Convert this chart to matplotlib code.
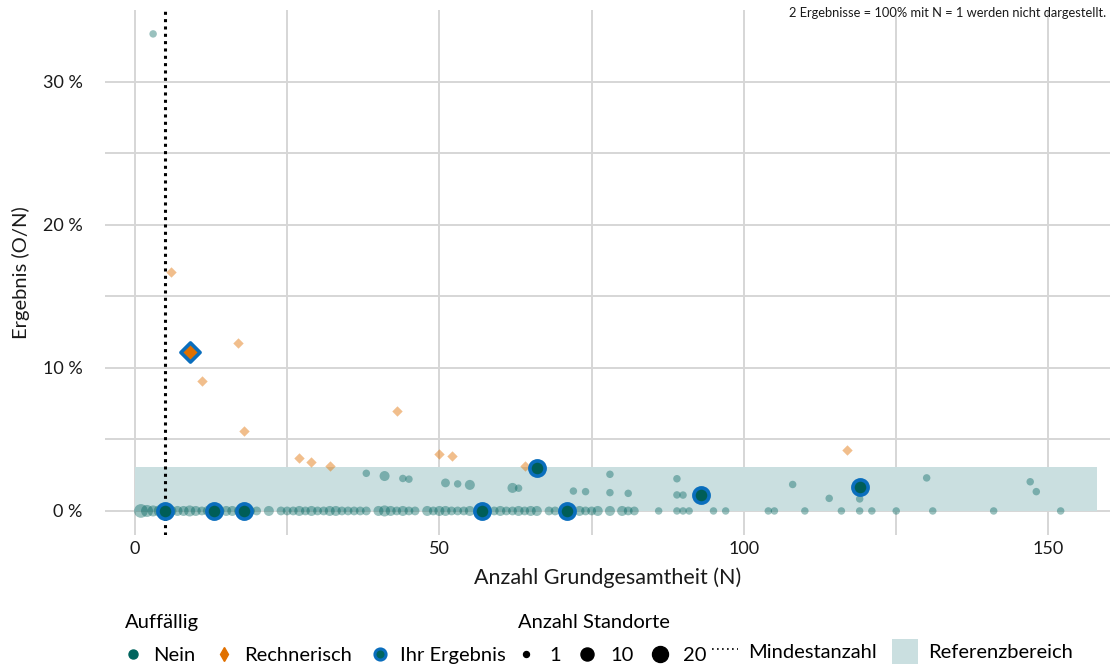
import numpy as np
import matplotlib
matplotlib.use('Agg')
import matplotlib.pyplot as plt
from matplotlib.lines import Line2D
from matplotlib.patches import Patch

plt.rcParams['font.family'] = ['Lato', 'DejaVu Sans']

# Nein (unauffaellig) - N, result in %, number of sites
nein_n = [3, 38, 41, 44, 45, 51, 53, 55, 62, 63, 72, 74, 78, 78, 81, 89, 89, 90,
          108, 114, 119, 130, 147, 148]
nein_y = [33.33, 2.63, 2.44, 2.27, 2.22, 1.96, 1.89, 1.82, 1.61, 1.59, 1.39, 1.35,
          2.56, 1.28, 1.23, 2.25, 1.12, 1.11, 1.85, 0.88, 0.84, 2.31, 2.04, 1.35]
nein_cnt = [1, 1, 3, 1, 1, 2, 1, 3, 3, 1, 1, 1, 1, 1, 1, 1, 1, 1, 1, 1, 1, 1, 1, 1]

# Nein with result 0 %
zero_n = [1, 2, 3, 4, 6, 7, 8, 9, 10, 11, 12, 14, 15, 16, 17, 19, 20, 22, 24, 25,
          26, 27, 28, 29, 30, 31, 32, 33, 34, 35, 36, 37, 38, 40, 41, 42, 43, 44,
          45, 46, 48, 49, 50, 51, 52, 53, 54, 55, 59, 60, 61, 62, 63, 64, 65, 66,
          68, 69, 73, 74, 75, 76, 78, 80, 81, 82, 86, 89, 90, 91, 95, 97, 104,
          105, 110, 116, 119, 121, 125, 131, 141, 152]
zero_cnt = [7, 5, 4, 4, 3, 3, 3, 4, 3, 2, 3, 2, 3, 3, 2, 2, 2, 3, 2, 2,
            2, 3, 2, 3, 2, 2, 3, 3, 2, 2, 2, 2, 2, 3, 4, 3, 2, 3,
            2, 2, 3, 2, 3, 3, 2, 2, 2, 3, 2, 3, 2, 2, 3, 2, 3, 3,
            2, 2, 3, 2, 2, 3, 3, 3, 2, 2, 1, 1, 1, 1, 1, 1, 1,
            1, 1, 1, 1, 1, 1, 1, 1, 1]

# Rechnerisch auffaellig
rech_n = [6, 11, 17, 18, 27, 29, 32, 43, 50, 52, 64, 117]
rech_y = [16.67, 9.09, 11.76, 5.56, 3.70, 3.45, 3.13, 6.98, 4.00, 3.85, 3.13, 4.27]

# Ihr Ergebnis
ihr_n = [5, 13, 18, 57, 66, 71, 93, 119]
ihr_y = [0, 0, 0, 0, 3.03, 0, 1.08, 1.68]
ihr_rech_n = [9]
ihr_rech_y = [11.11]

mindestanzahl = 5
ref_upper = 3.08
ref_xmax = 158

TEAL = '#00645E'
ORANGE = '#E07000'
BLUE = '#0A6EBD'
BAND = '#CADFE0'
GRID = '#D6D6D6'
TXT = '#1a1a1a'


def size(c):
    return 29 + 11.5 * (np.asarray(c) - 1)


fig = plt.figure(figsize=(11.12, 6.66), dpi=100)
ax = fig.add_axes([105 / 1112, 131 / 666, 1005 / 1112, 525 / 666])

ax.set_xlim(-4.9, 160.1)
ax.set_ylim(-1.68, 35.0)

# reference band
ax.fill_between([0, ref_xmax], 0, ref_upper, color=BAND, lw=0, zorder=1)

ax.set_xticks([0, 50, 100, 150])
ax.set_xticks([25, 75, 125], minor=True)
ax.set_yticks([0, 10, 20, 30])
ax.set_yticks([5, 15, 25], minor=True)
ax.set_yticklabels(['0 %', '10 %', '20 %', '30 %'])
ax.grid(True, which='both', color=GRID, lw=1.4, zorder=0)
ax.set_axisbelow(True)
ax.tick_params(which='both', length=0, labelsize=13, colors=TXT)
ax.tick_params(axis='x', pad=4)
ax.tick_params(axis='y', pad=16)
for s in ax.spines.values():
    s.set_visible(False)

ax.set_xlabel('Anzahl Grundgesamtheit (N)', fontsize=15.5, color=TXT, labelpad=8)
ax.set_ylabel('Ergebnis (O/N)', fontsize=14.5, color=TXT, labelpad=9)

ax.scatter(zero_n, [0] * len(zero_n), s=size(zero_cnt), color=TEAL, alpha=0.4,
           lw=0, zorder=3)
ax.scatter(nein_n, nein_y, s=size(nein_cnt), color=TEAL, alpha=0.4, lw=0, zorder=3)
ax.scatter(rech_n, rech_y, s=28, marker='D', color=ORANGE, alpha=0.45, lw=0, zorder=3)

ax.axvline(mindestanzahl, color='black', lw=2.2, linestyle=(0, (1, 1.4)), zorder=4)

ax.scatter(ihr_n, ihr_y, s=120, color='#005E58', edgecolor=BLUE, lw=2.6, zorder=5)
ax.scatter(ihr_rech_n, ihr_rech_y, s=95, marker='D', color=ORANGE, edgecolor=BLUE,
           lw=2.6, zorder=5)

fig.text(1106 / 1112, 1 - 13 / 666,
         '2 Ergebnisse = 100% mit N = 1 werden nicht dargestellt.',
         ha='right', va='center', fontsize=9.3, color=TXT)

# legends
FS = 14.5
h1 = [Line2D([], [], ls='', marker='o', ms=6.5, color=TEAL),
      Line2D([], [], ls='', marker='d', ms=7, color=ORANGE),
      Line2D([], [], ls='', marker='o', ms=8, color=TEAL, mec=BLUE, mew=2.2)]
leg1 = fig.legend(h1, ['Nein', 'Rechnerisch', 'Ihr Ergebnis'], title='Auffällig',
                  ncol=3, loc='lower left', bbox_to_anchor=(123 / 1112, 0.0),
                  frameon=False, fontsize=FS, title_fontsize=FS,
                  alignment='left', handlelength=0.8, handletextpad=0.6,
                  columnspacing=1.0, borderaxespad=0.0, borderpad=0.1,
                  labelspacing=0.8)

h2 = [Line2D([], [], ls='', marker='o', ms=4.3, color='black'),
      Line2D([], [], ls='', marker='o', ms=9.4, color='black'),
      Line2D([], [], ls='', marker='o', ms=11.5, color='black')]
leg2 = fig.legend(h2, ['1', '10', '20'], title='Anzahl Standorte',
                  ncol=3, loc='lower left', bbox_to_anchor=(516 / 1112, 0.0),
                  frameon=False, fontsize=FS, title_fontsize=FS,
                  alignment='left', handlelength=0.8, handletextpad=0.75,
                  columnspacing=0.9, borderaxespad=0.0, borderpad=0.1,
                  labelspacing=0.8)

h3 = [Line2D([], [], color='black', lw=1.2, ls=(0, (1, 2))),
      Patch(facecolor=BAND, edgecolor='none')]
leg3 = fig.legend(h3, ['Mindestanzahl', 'Referenzbereich'],
                  ncol=2, loc='lower left', bbox_to_anchor=(710 / 1112, 0.0),
                  frameon=False, fontsize=FS, handlelength=1.3,
                  handleheight=1.5, handletextpad=0.5, columnspacing=0.75,
                  borderaxespad=0.0, borderpad=0.1)

fig.savefig('out.png', dpi=100)
